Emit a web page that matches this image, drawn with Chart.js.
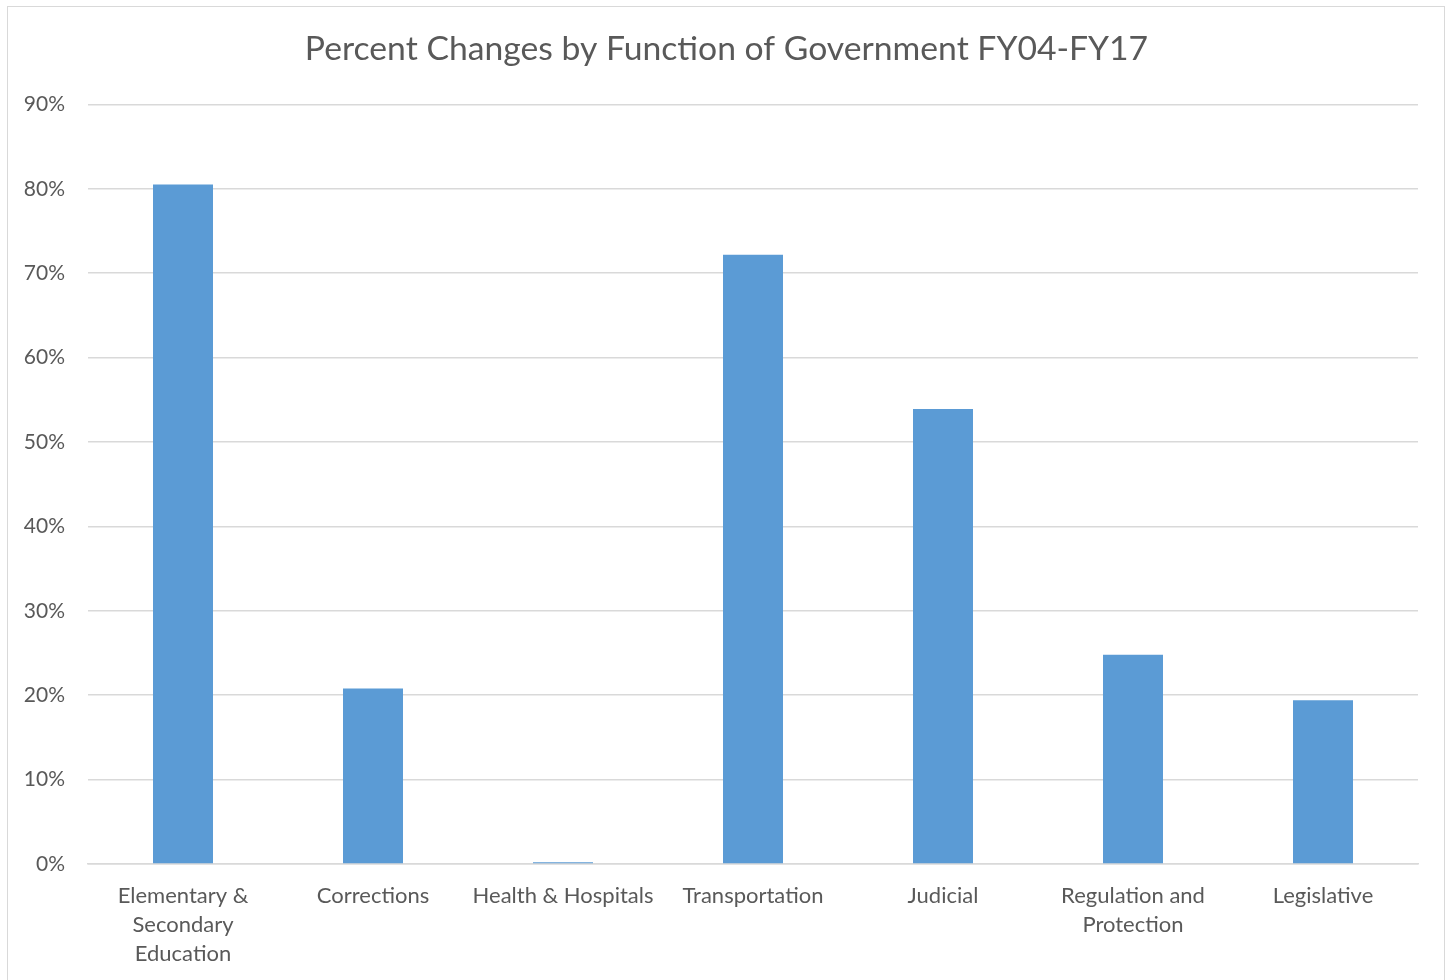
<!DOCTYPE html>
<html>
<head>
<meta charset="utf-8">
<script src="https://cdn.jsdelivr.net/npm/chart.js@4.4.0/dist/chart.umd.min.js"></script>
<style>
  html, body { margin: 0; padding: 0; background: #fff; }
  #wrap { position: absolute; left: 0; top: 0; width: 1453px; height: 980px; }
  #frame { position: absolute; left: 7px; top: 6px; width: 1438px; height: 990px; border: 1px solid #D9D9D9; box-sizing: border-box; }
</style>
</head>
<body>
<div id="frame"></div>
<div id="wrap"><canvas id="c" width="1453" height="980"></canvas></div>
<script>
const titleText = 'Percent Changes by Function of Government FY04-FY17';
const categories = [
  ['Elementary &', 'Secondary', 'Education'],
  'Corrections',
  'Health & Hospitals',
  'Transportation',
  'Judicial',
  ['Regulation and', 'Protection'],
  'Legislative'
];
const percentChange = [80.5, 20.8, 0.2, 72.2, 53.9, 24.8, 19.4];
const yTickMax = 90;
const yTickStep = 10;

const FONT = 'Lato, "Open Sans", sans-serif';
const TEXT = '#595959';

new Chart(document.getElementById('c'), {
  type: 'bar',
  data: {
    labels: categories,
    datasets: [{
      data: percentChange,
      backgroundColor: '#5B9BD5',
      borderWidth: 0,
      barPercentage: 60 / 190,
      categoryPercentage: 1.0
    }]
  },
  options: {
    responsive: false,
    animation: false,
    devicePixelRatio: 1,
    layout: { padding: { left: 21.5, right: 21.5, top: 0, bottom: 16 } },
    plugins: {
      legend: { display: false },
      tooltip: { enabled: false },
      title: {
        display: true,
        text: titleText,
        color: TEXT,
        font: { family: FONT, size: 33.7, weight: 'normal', lineHeight: 1.2 },
        padding: { top: 29, bottom: 35 }
      }
    },
    scales: {
      x: {
        grid: { display: false, drawTicks: false },
        border: { display: true, color: '#D9D9D9', width: 1.5 },
        ticks: {
          color: TEXT,
          font: { family: FONT, size: 22, lineHeight: 1.32 },
          padding: 17,
          maxRotation: 0,
          minRotation: 0,
          autoSkip: false
        },
        afterFit: (s) => { s.height = 100; }
      },
      y: {
        min: 0,
        max: yTickMax,
        grid: { color: '#D9D9D9', lineWidth: 1.5, drawTicks: false },
        border: { display: false },
        ticks: {
          stepSize: yTickStep,
          color: TEXT,
          font: { family: FONT, size: 21 },
          padding: 23,
          callback: (v) => v + '%'
        },
        afterFit: (s) => { s.width = 66.5; }
      },
      yRightSpace: {
        position: 'right',
        display: true,
        grid: { display: false, drawTicks: false },
        border: { display: false },
        ticks: { display: false },
        afterFit: (s) => { s.width = 13.5; }
      }
    }
  }
});
</script>
</body>
</html>
